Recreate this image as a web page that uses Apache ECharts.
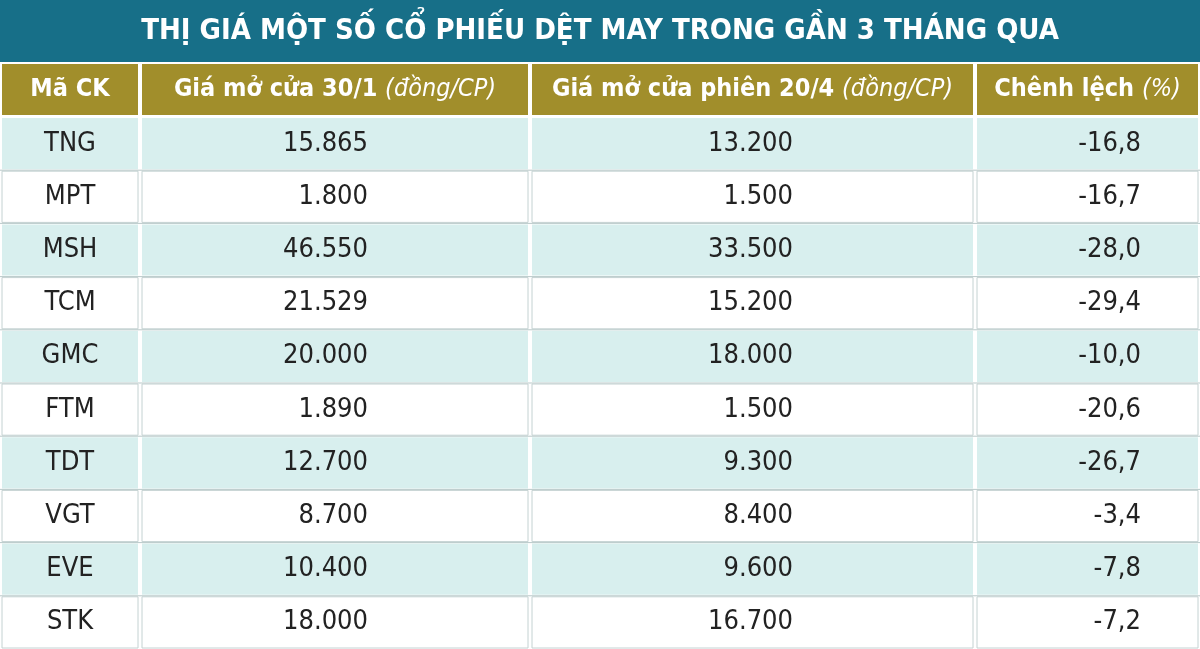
<!DOCTYPE html>
<html><head><meta charset="utf-8">
<script src="https://cdn.jsdelivr.net/npm/echarts@6/dist/echarts.min.js"></script>
<style>html,body{margin:0;padding:0;background:#fff}#c{width:1200px;height:649px}</style>
</head><body><div id="c"></div>
<script>
var title = 'THỊ GIÁ MỘT SỐ CỔ PHIẾU DỆT MAY TRONG GẦN 3 THÁNG QUA';
var tickers = ['TNG','MPT','MSH','TCM','GMC','FTM','TDT','VGT','EVE','STK'];
var open301 = ['15.865','1.800','46.550','21.529','20.000','1.890','12.700','8.700','10.400','18.000'];
var open204 = ['13.200','1.500','33.500','15.200','18.000','1.500','9.300','8.400','9.600','16.700'];
var diffPct = ['-16,8','-16,7','-28,0','-29,4','-10,0','-20,6','-26,7','-3,4','-7,8','-7,2'];

var font = '"Liberation Sans Narrow","DejaVu Sans Condensed",sans-serif';
var colX = [0, 140, 530, 975, 1200];
var titleH = 62, headH = 55, rowTop = 117, rowH = 53.2;
var g = [];

// title bar
g.push({type:'rect', shape:{x:0,y:0,width:1200,height:titleH}, style:{fill:'#176f88'}});
g.push({type:'text', x:600, y:titleH/2, style:{text:title, fill:'#fff', font:'bold 29px '+font, align:'center', verticalAlign:'middle'}});

// header row
var heads = [
  [{t:'Mã CK',i:false}],
  [{t:'Giá mở cửa 30/1 ',i:false},{t:'(đồng/CP)',i:true}],
  [{t:'Giá mở cửa phiên 20/4 ',i:false},{t:'(đồng/CP)',i:true}],
  [{t:'Chênh lệch ',i:false},{t:'(%)',i:true}]
];
for (var c = 0; c < 4; c++) {
  g.push({type:'rect', shape:{x:colX[c]+2,y:titleH+2,width:colX[c+1]-colX[c]-4,height:headH-4}, style:{fill:'#a18e2b'}});
  var rich = {}, str = '';
  heads[c].forEach(function (p, k) {
    rich['p'+k] = {fill:'#fff', font:(p.i?'italic ':'bold ')+'25px '+font};
    str += '{p'+k+'|'+p.t+'}';
  });
  g.push({type:'text', x:(colX[c]+colX[c+1])/2, y:titleH+headH/2, style:{text:str, rich:rich, align:'center', verticalAlign:'middle'}});
}

// body rows
var rightX = [null, 368, 793, 1141];
for (var r = 0; r < tickers.length; r++) {
  var y = rowTop + r*rowH;
  for (var c2 = 0; c2 < 4; c2++) {
    g.push({type:'rect', shape:{x:colX[c2]+2,y:y+1,width:colX[c2+1]-colX[c2]-4,height:rowH-2},
      style:{fill: r%2===0 ? '#d8efee' : '#ffffff', stroke: r%2===0 ? null : '#c4d2d2', lineWidth:1}});
  }
  if (r > 0) g.push({type:'line', shape:{x1:0,y1:y,x2:1200,y2:y}, style:{stroke:'#b9c9c9', lineWidth:1}});
  var cy = y + rowH/2;
  g.push({type:'text', x:70, y:cy, style:{text:tickers[r], fill:'#222', font:'27px '+font, align:'center', verticalAlign:'middle'}});
  [open301, open204, diffPct].forEach(function (arr, k) {
    g.push({type:'text', x:rightX[k+1], y:cy, style:{text:arr[r], fill:'#222', font:'27px '+font, align:'right', verticalAlign:'middle'}});
  });
}

var chart = echarts.init(document.getElementById('c'));
chart.setOption({animation:false, graphic:g});
</script></body></html>
